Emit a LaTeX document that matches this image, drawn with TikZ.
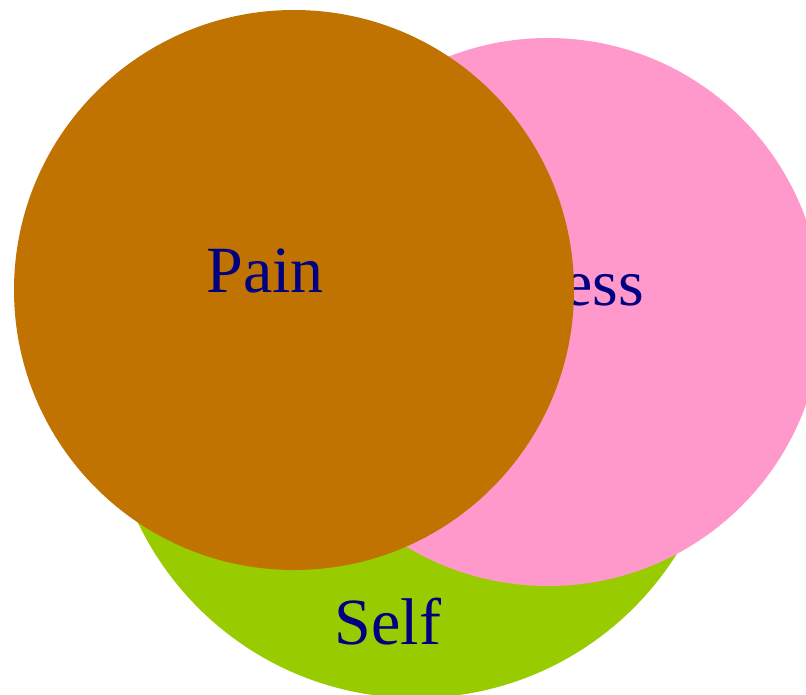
\documentclass[tikz,border=0pt]{standalone}
\usepackage{fontspec}
\setmainfont{Liberation Serif}
\definecolor{painbrown}{HTML}{C07300}
\definecolor{stresspink}{HTML}{FF99CC}
\definecolor{selfgreen}{HTML}{99CC00}
\definecolor{labelnavy}{HTML}{000080}
\begin{document}
\begin{tikzpicture}[x=1pt,y=-1pt,
  setcircle/.style={circle,draw=none,inner sep=0pt,minimum size=#1},
  setlabel/.style={text=labelnavy,inner sep=0pt,font=\fontsize{66}{78}\selectfont}]
  \useasboundingbox (0,0) rectangle (806,694);
  \clip (0,0) rectangle (806,694);
  % Self
  \node[setcircle=616pt,fill=selfgreen] (self) at (416,390) {};
  \node[setlabel,anchor=base] (selflabel) at (388,644) {Self};
  % Stress
  \node[setcircle=548pt,fill=stresspink] (stress) at (548,312) {};
  \node[setlabel,anchor=base east] (stresslabel) at (644,305) {Stress};
  % Pain
  \node[setcircle=560pt,fill=painbrown] (pain) at (294,290) {};
  \node[setlabel,anchor=base] (painlabel) at (265,292) {Pain};
\end{tikzpicture}
\end{document}
